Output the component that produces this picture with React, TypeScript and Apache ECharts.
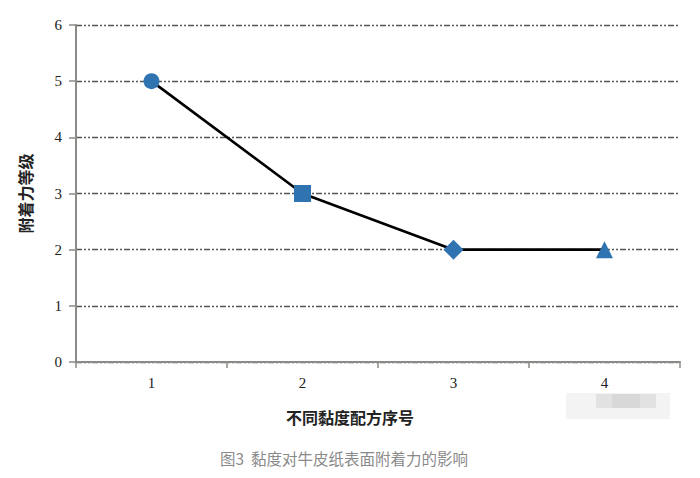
import React, { useEffect, useRef } from "react";
import * as echarts from "echarts";

const categories = ["1", "2", "3", "4"];
const values = [5, 3, 2, 2];
const symbols = ["circle", "rect", "diamond", "triangle"];
const symbolSizes = [16, 17, 20, 17];
const yTicks = [0, 1, 2, 3, 4, 5, 6];
const yAxisTitle = "附着力等级";
const xAxisTitle = "不同黏度配方序号";
const caption = "图3  黏度对牛皮纸表面附着力的影响";

export default function App() {
  const ref = useRef<HTMLDivElement>(null);
  useEffect(() => {
    if (!ref.current) return;
    const chart = echarts.init(ref.current, undefined, { renderer: "svg" });
    const markerColor = "#2f74b0";
    chart.setOption({
      animation: false,
      backgroundColor: "#ffffff",
      grid: { left: 76, right: 20, top: 25, bottom: 116 },
      xAxis: {
        type: "category",
        data: categories,
        boundaryGap: true,
        axisLine: { lineStyle: { color: "#8c8a86", width: 2 } },
        axisTick: { show: true, length: 6, alignWithLabel: false, lineStyle: { color: "#8c8a86", width: 1.5 } },
        axisLabel: { margin: 13, fontFamily: "Liberation Serif", fontSize: 15, color: "#222" },
        splitLine: { show: false },
      },
      yAxis: {
        type: "value",
        min: yTicks[0],
        max: yTicks[yTicks.length - 1],
        interval: 1,
        name: yAxisTitle,
        nameLocation: "middle",
        nameGap: 43,
        nameRotate: 90,
        nameTextStyle: { fontFamily: "Noto Sans CJK SC", fontWeight: "bold", fontSize: 16, color: "#222", padding: [0, 0, 0, 0] },
        axisLine: { show: true, lineStyle: { color: "#8c8a86", width: 2 } },
        axisTick: { show: true, length: 7, lineStyle: { color: "#8c8a86", width: 1.5 } },
        axisLabel: { margin: 14, fontFamily: "Liberation Serif", fontSize: 15, color: "#222" },
        splitLine: {
          show: true,
          lineStyle: { color: "#555", width: 1.3, type: [6, 2, 2, 2, 2, 2] },
        },
      },
      graphic: [
        {
          type: "text",
          x: 350,
          y: 417,
          style: {
            text: xAxisTitle,
            fontFamily: "Noto Sans CJK SC",
            fontWeight: "bold",
            fontSize: 16,
            fill: "#222",
            align: "center",
            verticalAlign: "middle",
          },
        },
        {
          type: "text",
          x: 220,
          y: 458,
          style: {
            text: caption,
            fontFamily: "Noto Sans CJK SC",
            fontSize: 15.5,
            fill: "#8a8a8a",
            align: "left",
            verticalAlign: "middle",
          },
        },
        { type: "rect", shape: { x: 566, y: 393, width: 104, height: 26 }, style: { fill: "#f3f3f3" } },
        { type: "rect", shape: { x: 596, y: 394, width: 60, height: 14 }, style: { fill: "#e2e2e2" } },
        { type: "rect", shape: { x: 612, y: 394, width: 28, height: 14 }, style: { fill: "#d8d8d8" } },
      ],
      series: [
        {
          type: "line",
          data: values.map((v, i) => ({
            value: v,
            symbol: symbols[i],
            symbolSize: symbolSizes[i],
          })),
          lineStyle: { color: "#000", width: 2.6 },
          itemStyle: { color: markerColor, opacity: 1 },
          showAllSymbol: true,
          z: 3,
        },
      ],
    });
    return () => chart.dispose();
  }, []);
  return <div ref={ref} style={{ width: 700, height: 478, margin: -8 }} />;
}
